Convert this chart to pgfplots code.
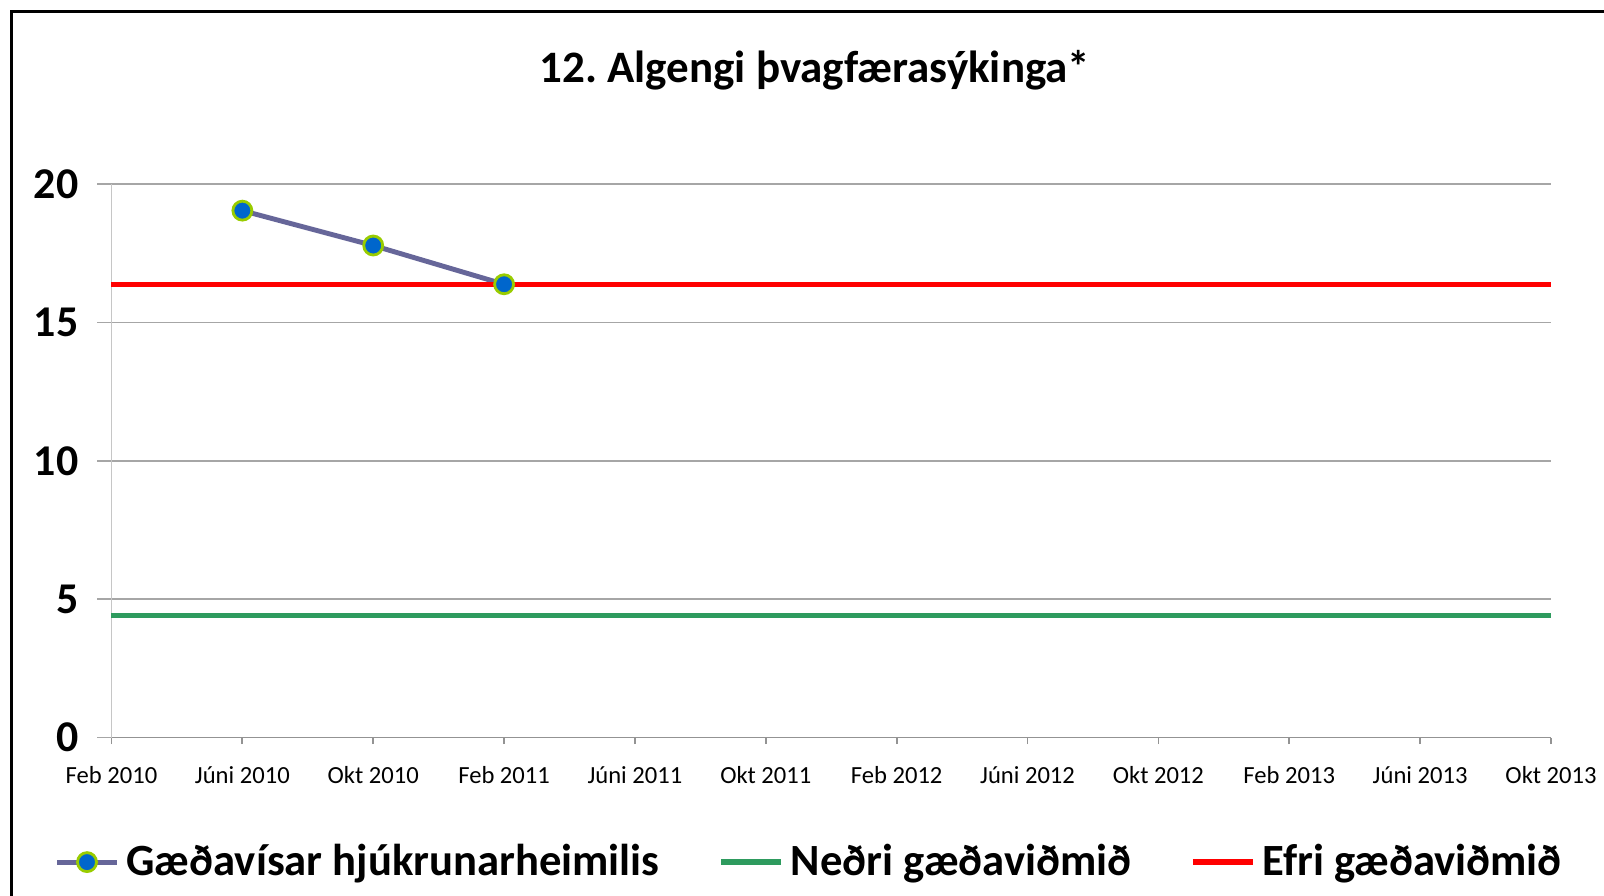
\documentclass[border=0pt]{standalone}
\usepackage{fontspec}
\setmainfont{Carlito}
\usepackage{pgfplots}
\pgfplotsset{compat=1.18}

\definecolor{mkfill}{RGB}{0,102,204}
\definecolor{mkdraw}{RGB}{153,204,0}
\definecolor{indline}{RGB}{102,102,153}
\definecolor{lowgreen}{RGB}{46,155,94}
\definecolor{gridgray}{RGB}{166,166,166}

\begin{document}
\frenchspacing
\begin{tikzpicture}
\useasboundingbox (0,0) rectangle (16.04,8.96);
% outer frame (only left and top edges show)
\draw[line width=1pt] (0.117,-0.2) -- (0.117,8.843) -- (16.3,8.843);

\node[font=\bfseries\fontsize{12.8}{15}\selectfont] at (8.15,8.255) {12. Algengi þvagfærasýkinga*};

\begin{axis}[
    at={(1.115cm,1.584cm)}, anchor=south west,
    scale only axis,
    width=14.395cm, height=5.535cm,
    xmin=0, xmax=11, ymin=0, ymax=20,
    xtick={0,...,11},
    xticklabels={Feb 2010, Júni 2010, Okt 2010, Feb 2011, Júni 2011, Okt 2011,
                 Feb 2012, Júni 2012, Okt 2012, Feb 2013, Júni 2013, Okt 2013},
    ytick={0,5,10,15,20},
    axis lines*=left,
    x axis line style={draw=gray!85, line width=0.5pt},
    y axis line style={draw=gray!45, line width=0.5pt},
    tick align=outside,
    major tick length=1.4mm,
    xtick style={draw=gray!85, line width=0.5pt, /pgfplots/major tick length=0.65mm},
    ytick style={draw=gridgray, line width=0.5pt},
    ymajorgrids,
    major grid style={draw=gridgray, line width=0.5pt},
    /pgf/number format/assume math mode=true,
    xticklabel style={font=\fontsize{7}{8}\selectfont, anchor=base, inner sep=0pt, yshift=-3.2mm},
    yticklabel style={font=\bfseries\fontsize{12.5}{15}\selectfont, anchor=east, inner sep=0pt, xshift=-1.85mm},
    legend columns=3,
    legend style={at={(0.4864,-0.225)}, anchor=center, draw=none, fill=none,
        font=\bfseries\fontsize{12.7}{15}\selectfont,
        /tikz/every even column/.append style={column sep=5.2mm}},
    clip=false,
]
\addplot[color=indline, line width=1.4pt, mark=*,
    mark options={fill=mkfill, draw=mkdraw, line width=0.8pt}, mark size=2.7pt]
    coordinates {(1,19.04) (2,17.78) (3,16.38)};
\addlegendentry{Gæðavísar hjúkrunarheimilis}
\addplot[color=lowgreen, line width=1.5pt]
    coordinates {(0,4.40) (1,4.40) (2,4.40) (3,4.40) (4,4.40) (5,4.40)
                 (6,4.40) (7,4.40) (8,4.40) (9,4.40) (10,4.40) (11,4.40)};
\addlegendentry{Neðri gæðaviðmið}
\addplot[color=red, line width=1.5pt]
    coordinates {(0,16.38) (1,16.38) (2,16.38) (3,16.38) (4,16.38) (5,16.38)
                 (6,16.38) (7,16.38) (8,16.38) (9,16.38) (10,16.38) (11,16.38)};
\addlegendentry{Efri gæðaviðmið}
\end{axis}
\end{tikzpicture}
\end{document}
